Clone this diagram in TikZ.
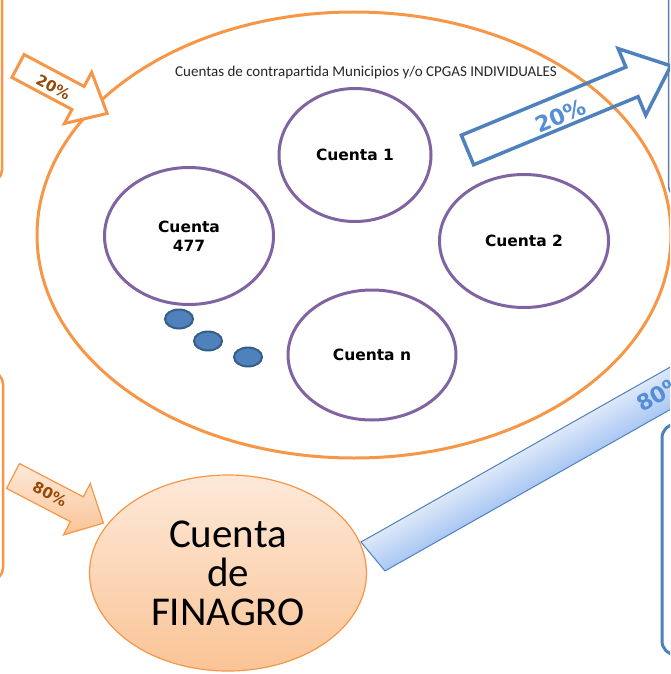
\documentclass[tikz,border=0pt]{standalone}
\usepackage{fontspec}
\setmainfont{Carlito}
\newfontfamily\vfont{DejaVu Sans}
\usetikzlibrary{shapes.geometric}
\definecolor{ora}{HTML}{F79646}
\definecolor{pur}{HTML}{8064A2}
\definecolor{blu}{HTML}{4F81BD}
\definecolor{dblu}{HTML}{385D8A}
\definecolor{brn}{HTML}{984807}
\definecolor{peachL}{HTML}{FDE9D9}
\definecolor{peachD}{HTML}{FAC496}
\definecolor{bluL}{HTML}{DDE8F8}
\definecolor{bluD}{HTML}{A9C7F4}
\definecolor{txtblu}{HTML}{558ED5}
\tikzset{
  cta/.style={ellipse, draw=pur, line width=3pt, inner sep=0pt, align=center,
    font=\vfont\bfseries\fontsize{15.5}{19}\selectfont},
  bdot/.style={ellipse, draw=dblu, fill=blu, line width=2pt, inner sep=0pt,
    minimum width=28pt, minimum height=19pt},
  pctlab/.style={font=\vfont\bfseries\fontsize{15}{17}\selectfont, text=brn, inner sep=0pt},
  bpctlab/.style={font=\vfont\bfseries\fontsize{22}{24}\selectfont, text=txtblu, inner sep=0pt},
}
\begin{document}
\begin{tikzpicture}[x=1pt,y=-1pt]
\useasboundingbox (0,0) rectangle (670,674);
\clip (0,0) rectangle (670,674);

% partial frames at the edges
\draw[ora, line width=2.5pt, rounded corners=12pt] (-40,-20) rectangle (2,182);
\draw[ora, line width=2.5pt, rounded corners=12pt] (-40,372) rectangle (3,580);
\draw[blu!80!gray, line width=1.5pt, rounded corners=12pt] (668.5,-20) rectangle (720,198);
\draw[blu, line width=3pt, rounded corners=14pt] (662,424) rectangle (720,655);

% big ellipse
\node[ellipse, draw=ora, line width=3pt, inner sep=0pt,
  minimum width=634pt, minimum height=446pt] (big) at (354,235) {};
\node[font=\fontsize{15}{17}\selectfont, text=black!85] (title) at (366,73)
  {Cuentas de contrapartida Municipios y/o CPGAS INDIVIDUALES};

% accounts
\node[cta, minimum width=152pt, minimum height=133pt] (c1) at (355,155) {Cuenta 1};
\node[cta, minimum width=169pt, minimum height=137pt] (c477) at (189,236) {Cuenta\\477};
\node[cta, minimum width=169pt, minimum height=133pt] (c2) at (524,241) {Cuenta 2};
\node[cta, minimum width=168pt, minimum height=130pt] (cn) at (372,355) {Cuenta n};

\node[bdot] (d1) at (179,319) {};
\node[bdot] (d2) at (208,341) {};
\node[bdot] (d3) at (248,357) {};

% FINAGRO
\node[ellipse, draw=ora, line width=1.2pt, top color=peachL, bottom color=peachD,
  inner sep=0pt, minimum width=277pt, minimum height=196pt, align=center,
  font=\fontsize{41}{39}\selectfont] (fin) at (228,573) {Cuenta\\de\\FINAGRO};

% orange 20% arrow (top left)
\begin{scope}[shift={(18,66)}, rotate=-28]
  \draw[ora, line width=3pt, fill=white, line join=miter]
    (0,-13) -- (68,-13) -- (68,-29) -- (101,0) -- (68,29) -- (68,13) -- (0,13) -- cycle;
  \node[pctlab, rotate=-28] (p20a) at (41,2) {20\%};
\end{scope}

% orange 80% arrow (bottom left)
\begin{scope}[shift={(13,476)}, rotate=-27.5]
  \draw[ora, line width=1.2pt, top color=peachL, bottom color=peachD, line join=miter]
    (0,-14) -- (72,-14) -- (72,-29) -- (102,0) -- (72,29) -- (72,14) -- (0,14) -- cycle;
  \node[pctlab, rotate=-27.5] (p80a) at (41,-1) {80\%};
\end{scope}

% blue 20% arrow (top right)
\begin{scope}[shift={(467.5,150)}, rotate=22.5]
  \draw[blu, line width=3.5pt, line join=miter]
    (0,-16) -- (178,-16) -- (178,-36) -- (220,0) -- (178,36) -- (178,16) -- (0,16) -- cycle;
  \node[bpctlab, rotate=22.5] (p20b) at (99,4) {20\%};
\end{scope}

% blue 80% band
\begin{scope}[transform canvas={shift={(361pt,-542pt)}, rotate=29.5}]
  \draw[blu, line width=1pt, top color=bluL, bottom color=bluD]
    (0,0) -- (450,0) -- (450,37) -- (6.6,37) -- cycle;
\end{scope}
\node[bpctlab, rotate=29.5] (p80b) at (661,393) {80\%};
\end{tikzpicture}
\end{document}
